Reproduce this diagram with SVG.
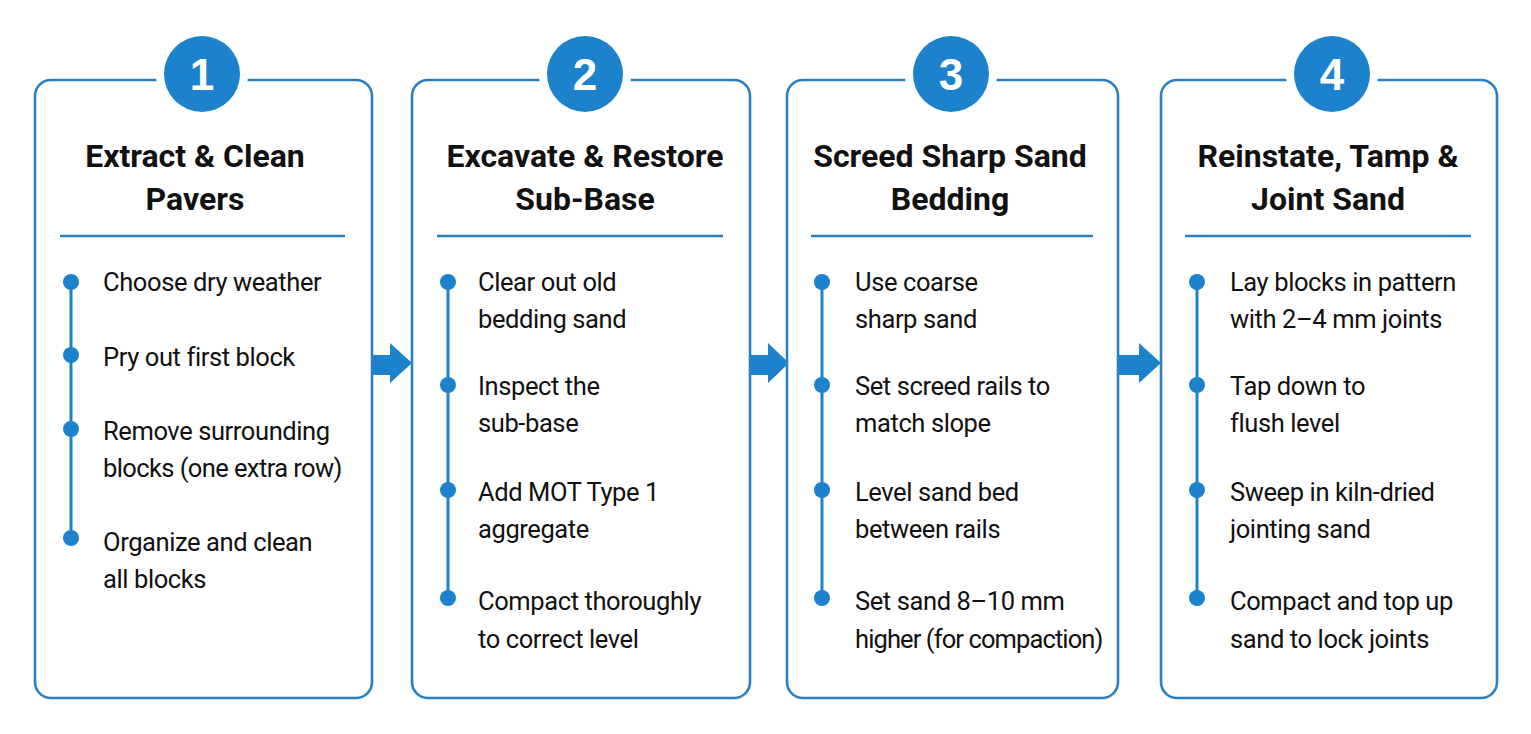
<svg xmlns="http://www.w3.org/2000/svg" width="1531" height="734" viewBox="0 0 1531 734">
<style>
.card{fill:#fff;stroke:#2b80c2;stroke-width:2.6}
.badge{fill:#1c82cc}
.num{font-family:"Liberation Sans",Arial,sans-serif;font-weight:bold;font-size:44px;fill:#fff;text-anchor:middle}
.title{font-family:"Roboto","Liberation Sans",sans-serif;font-weight:bold;font-size:32px;fill:#111;text-anchor:middle}
.div{stroke:#2b80c2;stroke-width:2.4}
.rail{stroke:#1c82cc;stroke-width:3}
.dot{fill:#1c82cc}
.item{font-family:"Roboto","Liberation Sans",sans-serif;font-size:25.5px;letter-spacing:-0.4px;fill:#111}
.arrow{fill:#1c82cc}
</style>
<rect width="1531" height="734" fill="#fff"/>
<g id="connectors">
<path class="arrow" d="M372 355H390V343L412 363L390 383V375H372Z"/>
<path class="arrow" d="M750 355H768V343L789 363L768 383V375H750Z"/>
<path class="arrow" d="M1118 355H1139V343L1161 363L1139 383V375H1118Z"/>
</g>
<g id="node1">
<rect class="card" x="35" y="80" width="337" height="618" rx="16"/>
<circle cx="202" cy="74" r="46" fill="#fff"/>
<circle class="badge" cx="202" cy="74" r="38"/>
<text class="num" x="202" y="90">1</text>
<text class="title" x="195" y="167">Extract &amp; Clean</text>
<text class="title" x="195" y="210">Pavers</text>
<line class="div" x1="60" y1="236" x2="345" y2="236"/>
<line class="rail" x1="71" y1="282" x2="71" y2="538"/>
<circle class="dot" cx="71" cy="282" r="8"/>
<circle class="dot" cx="71" cy="355" r="8"/>
<circle class="dot" cx="71" cy="429" r="8"/>
<circle class="dot" cx="71" cy="538" r="8"/>
<text class="item" x="103" y="291">Choose dry weather</text>
<text class="item" x="103" y="366">Pry out first block</text>
<text class="item" x="103" y="440">Remove surrounding</text>
<text class="item" x="103" y="477" textLength="239">blocks (one extra row)</text>
<text class="item" x="103" y="551">Organize and clean</text>
<text class="item" x="103" y="588">all blocks</text>
</g>
<g id="node2">
<rect class="card" x="412" y="80" width="338" height="618" rx="16"/>
<circle cx="585" cy="74" r="46" fill="#fff"/>
<circle class="badge" cx="585" cy="74" r="38"/>
<text class="num" x="585" y="90">2</text>
<text class="title" x="585" y="167">Excavate &amp; Restore</text>
<text class="title" x="585" y="210">Sub-Base</text>
<line class="div" x1="437" y1="236" x2="723" y2="236"/>
<line class="rail" x1="448" y1="282" x2="448" y2="598"/>
<circle class="dot" cx="448" cy="282" r="8"/>
<circle class="dot" cx="448" cy="385" r="8"/>
<circle class="dot" cx="448" cy="490" r="8"/>
<circle class="dot" cx="448" cy="598" r="8"/>
<text class="item" x="478" y="291">Clear out old</text>
<text class="item" x="478" y="328">bedding sand</text>
<text class="item" x="478" y="395">Inspect the</text>
<text class="item" x="478" y="432">sub-base</text>
<text class="item" x="478" y="501">Add MOT Type 1</text>
<text class="item" x="478" y="538">aggregate</text>
<text class="item" x="478" y="610">Compact thoroughly</text>
<text class="item" x="478" y="648">to correct level</text>
</g>
<g id="node3">
<rect class="card" x="787" y="80" width="331" height="618" rx="16"/>
<circle cx="951" cy="74" r="46" fill="#fff"/>
<circle class="badge" cx="951" cy="74" r="38"/>
<text class="num" x="951" y="90">3</text>
<text class="title" x="950" y="167">Screed Sharp Sand</text>
<text class="title" x="950" y="210">Bedding</text>
<line class="div" x1="811" y1="236" x2="1093" y2="236"/>
<line class="rail" x1="822" y1="282" x2="822" y2="598"/>
<circle class="dot" cx="822" cy="282" r="8"/>
<circle class="dot" cx="822" cy="385" r="8"/>
<circle class="dot" cx="822" cy="490" r="8"/>
<circle class="dot" cx="822" cy="598" r="8"/>
<text class="item" x="855" y="291">Use coarse</text>
<text class="item" x="855" y="328">sharp sand</text>
<text class="item" x="855" y="395">Set screed rails to</text>
<text class="item" x="855" y="432">match slope</text>
<text class="item" x="855" y="501">Level sand bed</text>
<text class="item" x="855" y="538">between rails</text>
<text class="item" x="855" y="610">Set sand 8–10 mm</text>
<text class="item" x="855" y="648" textLength="248">higher (for compaction)</text>
</g>
<g id="node4">
<rect class="card" x="1161" y="80" width="336" height="618" rx="16"/>
<circle cx="1332" cy="74" r="46" fill="#fff"/>
<circle class="badge" cx="1332" cy="74" r="38"/>
<text class="num" x="1332" y="90">4</text>
<text class="title" x="1328" y="167">Reinstate, Tamp &amp;</text>
<text class="title" x="1328" y="210">Joint Sand</text>
<line class="div" x1="1185" y1="236" x2="1471" y2="236"/>
<line class="rail" x1="1197" y1="282" x2="1197" y2="598"/>
<circle class="dot" cx="1197" cy="282" r="8"/>
<circle class="dot" cx="1197" cy="385" r="8"/>
<circle class="dot" cx="1197" cy="490" r="8"/>
<circle class="dot" cx="1197" cy="598" r="8"/>
<text class="item" x="1230" y="291">Lay blocks in pattern</text>
<text class="item" x="1230" y="328">with 2–4 mm joints</text>
<text class="item" x="1230" y="395">Tap down to</text>
<text class="item" x="1230" y="432">flush level</text>
<text class="item" x="1230" y="501">Sweep in kiln-dried</text>
<text class="item" x="1230" y="538">jointing sand</text>
<text class="item" x="1230" y="610">Compact and top up</text>
<text class="item" x="1230" y="648">sand to lock joints</text>
</g>
</svg>
